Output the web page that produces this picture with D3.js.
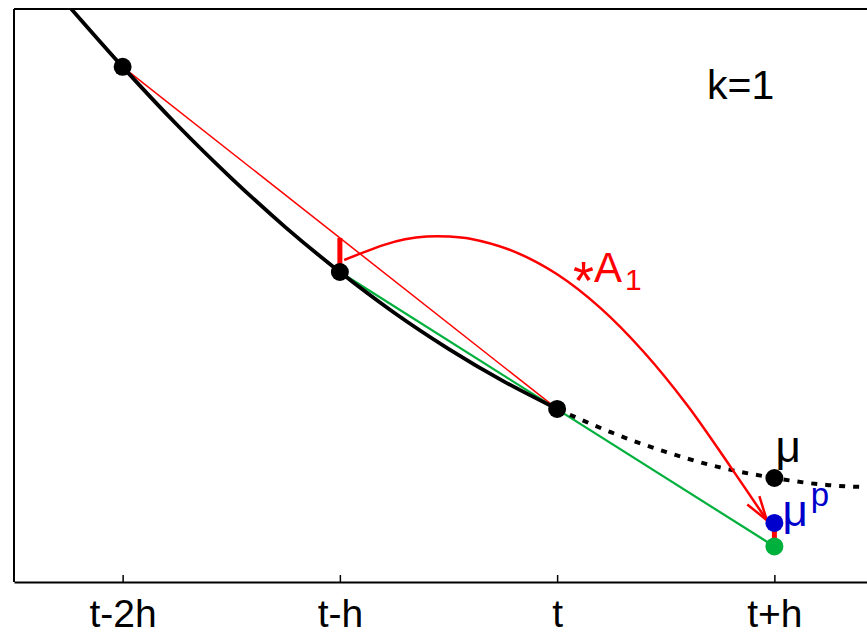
<!DOCTYPE html>
<html>
<head>
<meta charset="utf-8">
<script src="https://cdn.jsdelivr.net/npm/d3@7"></script>
<style>
  html, body { margin: 0; padding: 0; background: #fff; }
  svg { display: block; font-family: "Liberation Sans", Arial, Helvetica, sans-serif; }
</style>
</head>
<body>
<svg id="chart" width="867" height="636"></svg>
<script>
// ---- data ----
const tickValues = [-2, -1, 0, 1];
const tickLabels = ["t-2h", "t-h", "t", "t+h"];

// true solution curve (solid part, past)
const solidX = [-2.25, -2, -1.75, -1.5, -1.25, -1, -0.75, -0.5, -0.25, 0];
const solidY = [10.06, 8.99, 7.98, 7.05, 6.19, 5.41, 4.70, 4.07, 3.51, 3.02];
// future part (dotted)
const dottedX = [0, 0.25, 0.5, 0.75, 1, 1.25, 1.5];
const dottedY = [3.02, 2.61, 2.27, 2.00, 1.815, 1.69, 1.65];

// known solution points
const knownX = [-2, -1, 0];
const knownY = [8.99, 5.41, 3.02];

// values at t+h
const muX = 1, muY = 1.815;      // exact
const muPY = 1.03;               // predictor μ^p
const greenY = 0.62;             // linear extrapolation

// chord from t-2h to t
const chordX = [-2, 0];
const chordY = [8.99, 3.02];
// chord value at t-h
const chordAtTmH = 6.005;

// curved arrow "A1"
const arcX = [-0.98, -0.9, -0.8, -0.7, -0.6, -0.5, -0.4, -0.2, 0, 0.2, 0.4, 0.6, 0.8, 0.965];
const arcY = [5.62, 5.74, 5.88, 5.98, 6.03, 6.03, 5.99, 5.77, 5.37, 4.78, 4.01, 3.08, 2.00, 1.08];

// ---- layout ----
const svg = d3.select("#chart");
const mLeft = 14, mTop = 9, mBottom = 582, rightRange = 883;
const x = d3.scaleLinear().domain([-2.5, 1.5]).range([mLeft, rightRange]);
const y = d3.scaleLinear().domain([0, 10]).range([mBottom, mTop]);

const red = "#ff0000", green = "#00b03c", blue = "#0000cc";

svg.append("defs").append("clipPath").attr("id", "plotclip")
  .append("rect").attr("x", mLeft).attr("y", mTop).attr("width", 867 - mLeft).attr("height", mBottom - mTop);

const plot = svg.append("g").attr("clip-path", "url(#plotclip)");

const line = d3.line().x(d => x(d[0])).y(d => y(d[1])).curve(d3.curveMonotoneX);
const lineCR = d3.line().x(d => x(d[0])).y(d => y(d[1])).curve(d3.curveCatmullRom.alpha(0.5));

// chord (thin red)
plot.append("line")
  .attr("x1", x(chordX[0])).attr("y1", y(chordY[0]))
  .attr("x2", x(chordX[1])).attr("y2", y(chordY[1]))
  .attr("stroke", red).attr("stroke-width", 1.5);

// green extrapolation line t-h -> t+h
plot.append("line")
  .attr("x1", x(knownX[1])).attr("y1", y(knownY[1]))
  .attr("x2", x(muX)).attr("y2", y(greenY))
  .attr("stroke", green).attr("stroke-width", 2.2);

// solid curve
plot.append("path")
  .datum(solidX.map((v, i) => [v, solidY[i]]))
  .attr("d", line).attr("fill", "none").attr("stroke", "#000").attr("stroke-width", 3.8);

// dotted curve
plot.append("path")
  .datum(dottedX.map((v, i) => [v, dottedY[i]]))
  .attr("d", line).attr("fill", "none").attr("stroke", "#000").attr("stroke-width", 4)
  .attr("stroke-dasharray", "6,8");

// red thick bar at t-h (chord vs curve)
plot.append("line")
  .attr("x1", x(-1)).attr("y1", y(chordAtTmH))
  .attr("x2", x(-1)).attr("y2", y(knownY[1]))
  .attr("stroke", red).attr("stroke-width", 5);

// red thick bar at t+h (μ^p vs green)
plot.append("line")
  .attr("x1", x(muX)).attr("y1", y(muPY))
  .attr("x2", x(muX)).attr("y2", y(greenY))
  .attr("stroke", red).attr("stroke-width", 5);

// arc arrow
const arcPts = arcX.map((v, i) => [v, arcY[i]]);
plot.append("path").datum(arcPts)
  .attr("d", lineCR).attr("fill", "none").attr("stroke", red).attr("stroke-width", 2.5);
{
  const n = arcPts.length;
  const tx = x(arcPts[n - 1][0]), ty = y(arcPts[n - 1][1]);
  const px = x(arcPts[n - 2][0]), py = y(arcPts[n - 2][1]);
  const ang = Math.atan2(ty - py, tx - px);
  const L = 25, spread = 17 * Math.PI / 180;
  const a1 = ang + Math.PI - spread, a2 = ang + Math.PI + spread;
  plot.append("path")
    .attr("d", `M${tx + L * Math.cos(a1)},${ty + L * Math.sin(a1)} L${tx},${ty} L${tx + L * Math.cos(a2)},${ty + L * Math.sin(a2)}`)
    .attr("fill", "none").attr("stroke", red).attr("stroke-width", 2.5);
}

// points
const R = 9;
plot.selectAll("circle.known").data(knownX).enter().append("circle")
  .attr("class", "known")
  .attr("cx", d => x(d)).attr("cy", (d, i) => y(knownY[i])).attr("r", R).attr("fill", "#000");
plot.append("circle").attr("cx", x(muX)).attr("cy", y(muY)).attr("r", R).attr("fill", "#000");
plot.append("circle").attr("cx", x(muX)).attr("cy", y(muPY)).attr("r", R).attr("fill", blue);
plot.append("circle").attr("cx", x(muX)).attr("cy", y(greenY)).attr("r", R).attr("fill", green);

// axes frame
svg.append("line").attr("x1", mLeft).attr("y1", mTop).attr("x2", 867).attr("y2", mTop)
  .attr("stroke", "#000").attr("stroke-width", 2);
svg.append("line").attr("x1", mLeft).attr("y1", mTop).attr("x2", mLeft).attr("y2", mBottom)
  .attr("stroke", "#000").attr("stroke-width", 2);

const xAxis = d3.axisBottom(x).tickValues(tickValues)
  .tickFormat((d, i) => tickLabels[i]).tickSizeInner(-7).tickSizeOuter(0);
const gx = svg.append("g").attr("transform", `translate(0,${mBottom})`).call(xAxis);
gx.select(".domain").attr("stroke", "#000").attr("stroke-width", 2);
gx.selectAll(".tick line").attr("stroke", "#000").attr("stroke-width", 1.5);
gx.selectAll(".tick text").attr("y", 45).attr("dy", 0)
  .attr("font-size", 39).attr("fill", "#000")
  .attr("font-family", '"Liberation Sans", Arial, sans-serif');

// labels
svg.append("text").attr("x", 707).attr("y", 99).attr("font-size", 41).attr("fill", "#000").text("k=1");

const aLab = svg.append("text").attr("x", 573).attr("y", 282).attr("font-size", 42).attr("fill", red);
aLab.append("tspan").attr("dy", 17).attr("font-size", 54).text("*");
aLab.append("tspan").attr("dy", -17).attr("dx", 0).text("A");
aLab.append("tspan").attr("dy", 8).attr("dx", 3).attr("font-size", 30).text("1");

svg.append("text").attr("x", x(muX) + 1).attr("y", 462).attr("font-size", 44).attr("fill", "#000").text("μ");

const mp = svg.append("text").attr("x", x(muX) + 8).attr("y", 526).attr("font-size", 44).attr("fill", blue);
mp.append("tspan").text("μ");
mp.append("tspan").attr("dy", -20).attr("dx", 3).attr("font-size", 33).text("p");
</script>
</body>
</html>
